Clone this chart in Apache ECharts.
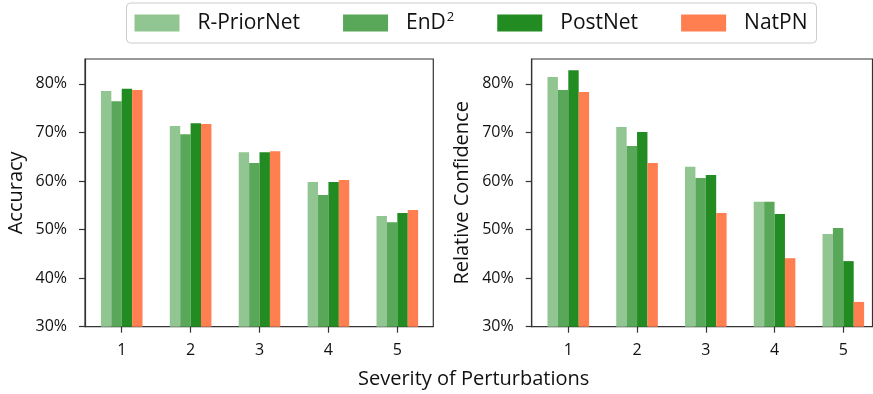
<!DOCTYPE html>
<html>
<head>
<meta charset="utf-8">
<script src="https://cdn.jsdelivr.net/npm/echarts@6/dist/echarts.min.js"></script>
<style>
  html, body { margin: 0; padding: 0; background: #fff; }
  #chart { width: 873px; height: 394px; }
</style>
</head>
<body>
<div id="chart"></div>
<script>
// Severity levels on the x axis
const severities = [1, 2, 3, 4, 5];
const methods = ['R-PriorNet', 'EnD2', 'PostNet', 'NatPN'];
const methodColors = ['#91c591', '#59a859', '#228b22', '#ff7f50'];

// Accuracy (%) per method and severity
const accRPriorNet = [78.5, 71.3, 65.9, 59.8, 52.8];
const accEnD2      = [76.4, 69.6, 63.7, 57.1, 51.5];
const accPostNet   = [79.0, 71.9, 65.9, 59.8, 53.4];
const accNatPN     = [78.7, 71.7, 66.1, 60.2, 54.0];

// Relative confidence (%) per method and severity
const confRPriorNet = [81.4, 71.1, 62.9, 55.7, 49.1];
const confEnD2      = [78.7, 67.2, 60.6, 55.7, 50.3];
const confPostNet   = [82.8, 70.1, 61.2, 53.2, 43.5];
const confNatPN     = [78.3, 63.7, 53.4, 44.1, 35.1];

const yTicks = [30, 40, 50, 60, 70, 80];

const FONT = '"Open Sans", "Noto Sans", sans-serif';
const INK = '#111';
const SPINE = '#333';

const accSeries = [accRPriorNet, accEnD2, accPostNet, accNatPN];
const confSeries = [confRPriorNet, confEnD2, confPostNet, confNatPN];

function xAxisCfg(gridIndex, min, max) {
  return {
    type: 'value', gridIndex, min, max,
    axisLine: { show: true, lineStyle: { color: SPINE, width: 1.2 } },
    axisTick: { show: true, inside: false, length: 6, lineStyle: { color: SPINE, width: 1.2 }, customValues: severities },
    axisLabel: { show: true, color: INK, fontFamily: FONT, fontSize: 16, margin: 16, customValues: severities },
    splitLine: { show: false }
  };
}

function yAxisCfg(gridIndex, name) {
  return {
    type: 'value', gridIndex, min: 30, max: 85.1, interval: 10,
    name, nameLocation: 'middle', nameGap: 59,
    nameTextStyle: { color: INK, fontFamily: FONT, fontSize: 20 },
    axisLine: { show: true, lineStyle: { color: SPINE, width: 1.2 } },
    axisTick: { show: true, inside: false, length: 6, lineStyle: { color: SPINE, width: 1.2 }, customValues: yTicks },
    axisLabel: { color: INK, fontFamily: FONT, fontSize: 16, margin: 18, customValues: yTicks,
                 formatter: v => v + '%' },
    splitLine: { show: false }
  };
}

const series = [];
[accSeries, confSeries].forEach((group, gi) => {
  group.forEach((vals, mi) => {
    series.push({
      type: 'bar',
      name: methods[mi],
      xAxisIndex: gi, yAxisIndex: gi,
      barWidth: 10.4,
      barGap: '0%',
      itemStyle: { color: methodColors[mi] },
      emphasis: { disabled: true },
      data: severities.map((s, i) => [s, vals[i]])
    });
  });
});

const chart = echarts.init(document.getElementById('chart'), null, { renderer: 'canvas' });
chart.setOption({
  animation: false,
  backgroundColor: '#fff',
  legend: {
    data: methods,
    left: 126.5, top: 3,
    orient: 'horizontal',
    itemWidth: 45, itemHeight: 17, itemGap: 43,
    padding: [8, 9, 8, 8],
    borderColor: '#cccccc', borderWidth: 1, borderRadius: 4,
    icon: 'rect',
    selectedMode: false,
    formatter: n => n === 'EnD2' ? 'EnD{sup|2}' : n,
    textStyle: {
      color: INK, fontFamily: FONT, fontSize: 21, lineHeight: 24, padding: [0, 0, 0, 13],
      rich: { sup: { fontFamily: FONT, fontSize: 13, verticalAlign: 'top', lineHeight: 14, padding: [0, 0, 8, 1] } }
    }
  },
  grid: [
    { left: 85, top: 59, width: 348.3, height: 267.7, show: true, borderColor: SPINE, borderWidth: 1.2, containLabel: false },
    { left: 531.7, top: 59, width: 340.8, height: 267.7, show: true, borderColor: SPINE, borderWidth: 1.2, containLabel: false }
  ],
  xAxis: [xAxisCfg(0, 0.4673, 5.522), xAxisCfg(1, 0.4676, 5.4247)],
  yAxis: [yAxisCfg(0, 'Accuracy'), yAxisCfg(1, 'Relative Confidence')],
  graphic: [{
    type: 'text', left: 358, top: 369,
    style: { text: 'Severity of Perturbations', fill: INK, font: '20px ' + FONT }
  }],
  series
});
</script>
</body>
</html>
